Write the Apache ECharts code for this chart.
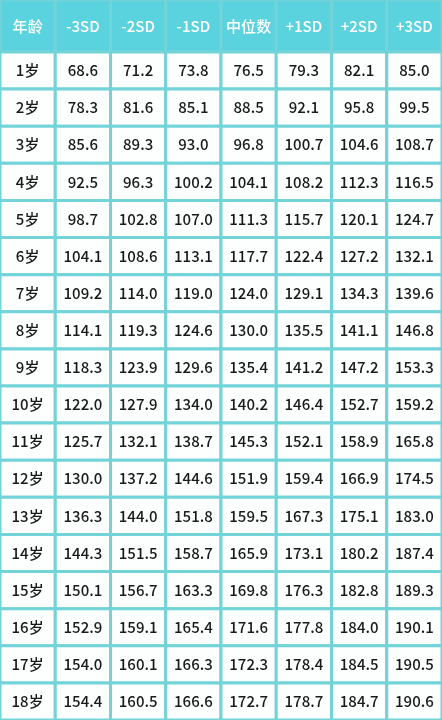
<!DOCTYPE html>
<html>
<head>
<meta charset="utf-8">
<script src="https://cdn.jsdelivr.net/npm/echarts@6/dist/echarts.min.js"></script>
<style>
html, body { margin: 0; padding: 0; background: #ffffff; }
#main { width: 442px; height: 720px; }
</style>
</head>
<body>
<div id="main"></div>
<script>
var headers = ['年龄', '-3SD', '-2SD', '-1SD', '中位数', '+1SD', '+2SD', '+3SD'];
var ages = ['1岁', '2岁', '3岁', '4岁', '5岁', '6岁', '7岁', '8岁', '9岁', '10岁', '11岁', '12岁', '13岁', '14岁', '15岁', '16岁', '17岁', '18岁'];
var sdM3 = [68.6, 78.3, 85.6, 92.5, 98.7, 104.1, 109.2, 114.1, 118.3, 122.0, 125.7, 130.0, 136.3, 144.3, 150.1, 152.9, 154.0, 154.4];
var sdM2 = [71.2, 81.6, 89.3, 96.3, 102.8, 108.6, 114.0, 119.3, 123.9, 127.9, 132.1, 137.2, 144.0, 151.5, 156.7, 159.1, 160.1, 160.5];
var sdM1 = [73.8, 85.1, 93.0, 100.2, 107.0, 113.1, 119.0, 124.6, 129.6, 134.0, 138.7, 144.6, 151.8, 158.7, 163.3, 165.4, 166.3, 166.6];
var median = [76.5, 88.5, 96.8, 104.1, 111.3, 117.7, 124.0, 130.0, 135.4, 140.2, 145.3, 151.9, 159.5, 165.9, 169.8, 171.6, 172.3, 172.7];
var sdP1 = [79.3, 92.1, 100.7, 108.2, 115.7, 122.4, 129.1, 135.5, 141.2, 146.4, 152.1, 159.4, 167.3, 173.1, 176.3, 177.8, 178.4, 178.7];
var sdP2 = [82.1, 95.8, 104.6, 112.3, 120.1, 127.2, 134.3, 141.1, 147.2, 152.7, 158.9, 166.9, 175.1, 180.2, 182.8, 184.0, 184.5, 184.7];
var sdP3 = [85.0, 99.5, 108.7, 116.5, 124.7, 132.1, 139.6, 146.8, 153.3, 159.2, 165.8, 174.5, 183.0, 187.4, 189.3, 190.1, 190.5, 190.6];

var columns = [sdM3, sdM2, sdM1, median, sdP1, sdP2, sdP3];
var lineColor = '#72d3d8';
var headColor = '#5ad3df';

var headData = headers.map(function (h, i) { return [i, 0, h]; });
var bodyData = [];
ages.forEach(function (a, r) {
    bodyData.push([0, r, a]);
    columns.forEach(function (col, c) {
        bodyData.push([c + 1, r, col[r].toFixed(1)]);
    });
});

function cellRenderer(fill, textColor) {
    return function (params, api) {
        var p = api.coord([api.value(0), api.value(1)]);
        var s = api.size([1, 1]);
        return {
            type: 'group',
            children: [{
                type: 'rect',
                shape: { x: p[0] - s[0] / 2, y: p[1] - s[1] / 2, width: s[0], height: s[1] },
                style: { fill: fill, stroke: lineColor, lineWidth: 3 }
            }, {
                type: 'text',
                style: {
                    x: p[0], y: p[1],
                    text: api.value(2),
                    fill: textColor,
                    font: '500 15px "Noto Sans CJK SC", sans-serif',
                    align: 'center',
                    verticalAlign: 'middle'
                }
            }]
        };
    };
}

var chart = echarts.init(document.getElementById('main'));
chart.setOption({
    animation: false,
    grid: [
        { left: 0, right: 0, top: 0, height: 52 },
        { left: 0, right: 0, top: 52, bottom: 0 }
    ],
    xAxis: [
        { type: 'category', gridIndex: 0, data: headers, show: false },
        { type: 'category', gridIndex: 1, data: headers, show: false }
    ],
    yAxis: [
        { type: 'category', gridIndex: 0, data: ['h'], show: false, inverse: true },
        { type: 'category', gridIndex: 1, data: ages, show: false, inverse: true }
    ],
    series: [{
        type: 'custom',
        xAxisIndex: 0, yAxisIndex: 0,
        renderItem: cellRenderer(headColor, '#ffffff'),
        data: headData
    }, {
        type: 'custom',
        xAxisIndex: 1, yAxisIndex: 1,
        renderItem: cellRenderer('#fdfefe', '#1a1a1a'),
        data: bodyData
    }]
});
</script>
</body>
</html>
